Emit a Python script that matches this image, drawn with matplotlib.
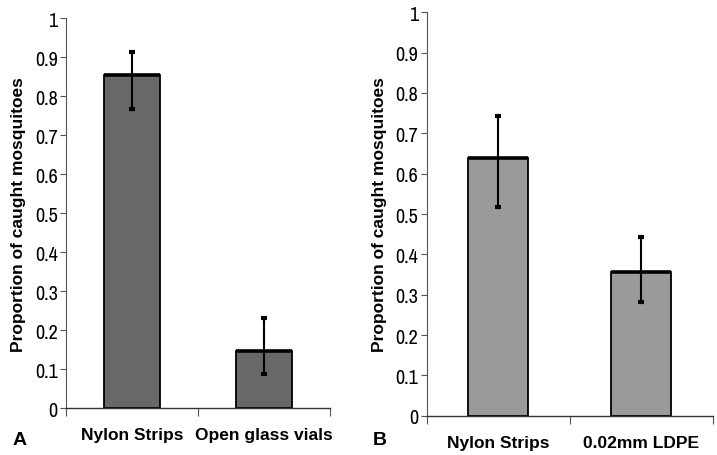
import matplotlib
matplotlib.use('Agg')
import matplotlib.pyplot as plt

# panel A
cats_a = ['Nylon Strips', 'Open glass vials']
vals_a = [0.854, 0.147]
err_lo_a = [0.767, 0.087]
err_hi_a = [0.912, 0.232]

# panel B
cats_b = ['Nylon Strips', '0.02mm LDPE']
vals_b = [0.639, 0.357]
err_lo_b = [0.517, 0.283]
err_hi_b = [0.743, 0.443]

yticks = [0, 0.1, 0.2, 0.3, 0.4, 0.5, 0.6, 0.7, 0.8, 0.9, 1]
ytick_labels = ['0', '0.1', '0.2', '0.3', '0.4', '0.5', '0.6', '0.7', '0.8', '0.9', '1']

plt.rcParams['font.family'] = ['Liberation Sans', 'DejaVu Sans']

fig = plt.figure(figsize=(7.17, 4.56), dpi=100)
ax1 = fig.add_axes([0.092, 0.103, 0.368, 0.855])
ax2 = fig.add_axes([0.595, 0.086, 0.399, 0.885])


def draw(ax, cats, vals, lo, hi, color):
    x = list(range(len(cats)))
    w = 0.42
    ax.bar(x, vals, width=w, color=color, edgecolor='black', linewidth=1.3, zorder=2)
    ax.hlines(vals, [i - w / 2 for i in x], [i + w / 2 for i in x], color='black', linewidth=2.6, zorder=3)
    yerr = [[v - l for v, l in zip(vals, lo)], [h - v for v, h in zip(vals, hi)]]
    ax.errorbar(x, vals, yerr=yerr, fmt='none', ecolor='black', elinewidth=1.5,
                capsize=2, capthick=3, zorder=4)
    ax.set_xlim(-0.5, len(cats) - 0.5)
    ax.set_ylim(0, 1)
    ax.set_xticks(x)
    ax.set_xticklabels(cats, fontsize=12.5, fontweight='bold')
    ax.tick_params(axis='x', which='major', length=0, pad=14)
    ax.set_xticks([i - 0.5 for i in range(len(cats) + 1)], minor=True)
    ax.tick_params(axis='x', which='minor', length=6, width=0.8, color='#555555', direction='out')
    ax.set_yticks(yticks)
    ax.set_yticklabels(ytick_labels, fontsize=14.5, family=['Archivo Narrow', 'DejaVu Sans'])
    ax.tick_params(axis='y', length=4, width=0.8, color='#555555', direction='out', pad=2)
    ax.spines['top'].set_visible(False)
    ax.spines['right'].set_visible(False)
    ax.spines['left'].set_color('#555555')
    ax.spines['left'].set_linewidth(0.8)
    ax.spines['bottom'].set_color('#333333')
    ax.spines['bottom'].set_linewidth(1.0)
    ax.set_ylabel('Proportion of caught mosquitoes', fontsize=12.5, fontweight='bold', labelpad=6)


draw(ax1, cats_a, vals_a, err_lo_a, err_hi_a, '#686868')
draw(ax2, cats_b, vals_b, err_lo_b, err_hi_b, '#9a9a9a')

fig.text(0.017, 0.025, 'A', fontsize=14, fontweight='bold')
fig.text(0.52, 0.025, 'B', fontsize=14, fontweight='bold')

fig.savefig('out.png', dpi=100)
